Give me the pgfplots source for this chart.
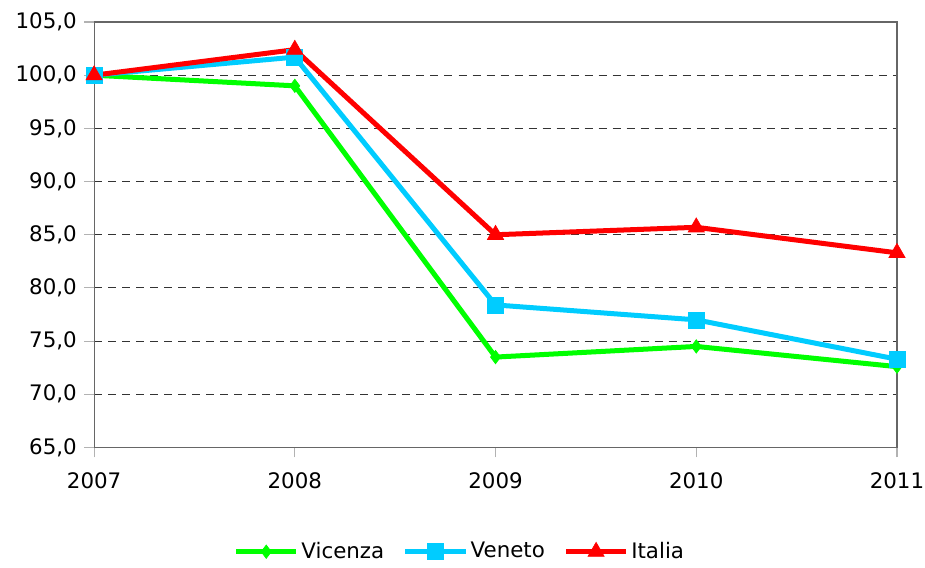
\documentclass[border=0pt]{standalone}
\usepackage{pgfplots}
\pgfplotsset{compat=1.18}
\usepackage{fontspec}
\setmainfont{DejaVu Sans}
\usetikzlibrary{calc}
\definecolor{cgreen}{HTML}{00FF00}
\definecolor{ccyan}{HTML}{00CCFF}
\definecolor{cred}{HTML}{FF0000}
\begin{document}
\fontsize{16}{19}\selectfont
\begin{tikzpicture}
\begin{axis}[
  name=ax,
  scale only axis,
  width=601.5pt, height=318.75pt,
  xmin=2007, xmax=2011, ymin=65, ymax=105,
  xtick={2007,2008,2009,2010,2011},
  ytick={65,70,...,105},
  xtick pos=bottom, ytick pos=left,
  xticklabel style={/pgf/number format/1000 sep={}, yshift=-6pt},
  yticklabel style={/pgf/number format/.cd, fixed, fixed zerofill, precision=1, use comma, 1000 sep={}},
  /pgf/number format/assume math mode=true,
  tick align=outside,
  major tick length=7.5pt,
  tick style={gray!60, line width=0.8pt},
  ymajorgrids,
  grid style={dash pattern=on 6pt off 4.5pt, black!80, line width=0.8pt},
  axis line style={gray!80!black, line width=0.9pt},
  every axis plot/.append style={line width=3.75pt},
  legend style={draw=none, at={(0.456,-0.245)}, anchor=center, legend columns=3,
    font=\fontsize{16}{19}\selectfont,
    /tikz/every even column/.append style={column sep=12pt}},
  legend image code/.code={
    \draw[mark repeat=2, mark phase=2, #1] plot coordinates {(0pt,0pt) (22.5pt,0pt) (45pt,0pt)};
  },
  clip=false,
]
\addplot[color=cgreen, mark=diamond*, mark size=5pt, mark options={solid, line width=0.5pt}] coordinates {
  (2007,100.0) (2008,99.0) (2009,73.5) (2010,74.5) (2011,72.6)};
\addlegendentry{Vicenza}
\addplot[color=ccyan, mark=square*, mark size=6pt, mark options={solid, line width=0.5pt}] coordinates {
  (2007,100.0) (2008,101.7) (2009,78.4) (2010,77.0) (2011,73.3)};
\addlegendentry{Veneto}
\addplot[color=cred, mark=triangle*, mark size=7pt, mark options={solid, line width=0.5pt}] coordinates {
  (2007,100.0) (2008,102.4) (2009,85.0) (2010,85.7) (2011,83.3)};
\addlegendentry{Italia}
\end{axis}
\pgfresetboundingbox
\path[use as bounding box] ($(ax.south west)+(-70.5pt,-90pt)$) rectangle ($(ax.north east)+(21pt,16.5pt)$);
\end{tikzpicture}
\end{document}
